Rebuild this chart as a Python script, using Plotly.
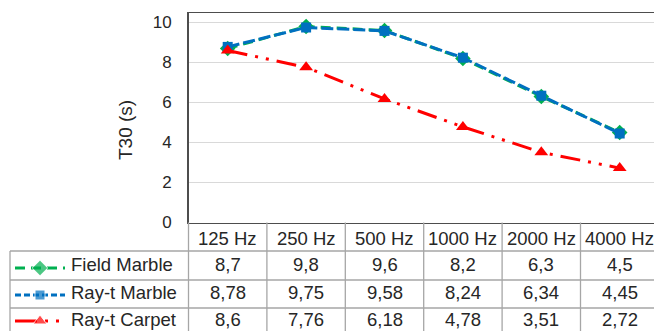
import plotly.graph_objects as go

# ---- data -------------------------------------------------------------
bands = ["125 Hz", "250 Hz", "500 Hz", "1000 Hz", "2000 Hz", "4000 Hz"]
field_marble = [8.7, 9.8, 9.6, 8.2, 6.3, 4.5]
rayt_marble = [8.78, 9.75, 9.58, 8.24, 6.34, 4.45]
rayt_carpet = [8.6, 7.76, 6.18, 4.78, 3.51, 2.72]
series_names = ["Field Marble", "Ray-t Marble", "Ray-t Carpet"]
y_ticks = [0, 2, 4, 6, 8, 10]
y_title = "T30 (s)"

# ---- page geometry (pixels) ------------------------------------------
W, H = 654, 331
PL, PT, PB = 188.5, 13.0, 222.5          # plot area left / top / bottom
Y10 = 22.5                                # pixel row of the 10 s gridline
COL = 78.4                                # width of one frequency column
ROW_LINES = [251.0, 280.0, 308.0]         # table row separators below header
TABLE_LEFT = 10.0
HEADER_TEXT_BOTTOM = 249.5                # bottom of the header text boxes
ROW_TEXT_BOTTOM = [276.0, 303.5, 331.0]   # bottom of the value text boxes
KEY_Y = [268.0, 295.0, 321.0]             # legend key rows inside the table

FONT = "Liberation Sans, Arial, sans-serif"
TXT = "#262626"
FRAME = "#4d4d4d"
GRID = "#d9d9d9"
TABLE_LINE = "#a6a6a6"

styles = [
    dict(color="#00B050", dash="10px,6px", symbol="diamond", size=12),
    dict(color="#0070C0", dash="12px,4px", symbol="square", size=10),
    dict(color="#FF0000", dash="20px,8px,3px,8px,3px,8px", symbol="triangle-up", size=12),
]
key_dash = ["10px,6px", "6px,3px", "22px,8px,3px,8px,3px,8px"]

x_span = (W - PL) / COL
y_top = 10 * (PB - PT) / (PB - Y10)

fig = go.Figure()

for name, vals, st in zip(series_names, [field_marble, rayt_marble, rayt_carpet], styles):
    fig.add_trace(go.Scatter(
        x=bands, y=vals, mode="lines+markers", name=name,
        line=dict(color=st["color"], width=3, dash=st["dash"]),
        marker=dict(symbol=st["symbol"], size=st["size"], color=st["color"]),
        xaxis="x", yaxis="y", hoverinfo="skip", cliponaxis=False,
    ))

# legend keys drawn inside the data table (pixel overlay axes)
for i, st in enumerate(styles):
    fig.add_trace(go.Scatter(
        x=[15, 40, 65], y=[KEY_Y[i]] * 3, mode="lines+markers",
        line=dict(color=st["color"], width=3, dash=key_dash[i]),
        marker=dict(symbol=st["symbol"], size=[0, st["size"], 0], color=st["color"]),
        xaxis="x2", yaxis="y2", hoverinfo="skip", showlegend=False,
    ))

shapes = []
def hline(y, x0, x1, color=TABLE_LINE, w=1.3):
    shapes.append(dict(type="line", xref="x2", yref="y2", x0=x0, x1=x1, y0=y, y1=y,
                       line=dict(color=color, width=w), layer="above"))

def vline(x, y0, y1, xref="x2", color=TABLE_LINE, w=1.3):
    shapes.append(dict(type="line", xref=xref, yref="y2", x0=x, x1=x, y0=y0, y1=y1,
                       line=dict(color=color, width=w), layer="above"))

# table grid
for y in ROW_LINES:
    hline(y, TABLE_LEFT, W)
vline(TABLE_LEFT, ROW_LINES[0], H)
vline(PL, PB, H)
for k in range(1, len(bands)):
    vline(k - 0.5, PB, H, xref="x")

def cell_text(x, xref, y, text, xanchor="center"):
    return dict(x=x, xref=xref, y=y, yref="y2", text=text, showarrow=False,
                xanchor=xanchor, yanchor="bottom", borderpad=0,
                font=dict(family=FONT, size=18.5, color=TXT))

annotations = []
# header row
for b in bands:
    annotations.append(cell_text(b, "x", HEADER_TEXT_BOTTOM, b))
# value rows
for i, vals in enumerate([field_marble, rayt_marble, rayt_carpet]):
    for b, v in zip(bands, vals):
        annotations.append(cell_text(b, "x", ROW_TEXT_BOTTOM[i], f"{v:g}".replace(".", ",")))
    annotations.append(cell_text(70, "x2", ROW_TEXT_BOTTOM[i], series_names[i], "left"))
# y-axis title
annotations.append(dict(x=125, xref="x2", y=130, yref="y2", text=y_title, textangle=-90,
                        showarrow=False, xanchor="center", yanchor="middle",
                        font=dict(family=FONT, size=19, color=TXT)))

fig.update_layout(
    width=W, height=H,
    margin=dict(l=0, r=0, t=0, b=0, autoexpand=False),
    paper_bgcolor="white", plot_bgcolor="rgba(0,0,0,0)",
    showlegend=False,
    xaxis=dict(domain=[PL / W, 1], range=[-0.5, -0.5 + x_span], type="category",
               showticklabels=False, showgrid=False, zeroline=False, ticks="",
               showline=True, mirror=True, linecolor=FRAME, linewidth=1.5,
               anchor="y", fixedrange=True, automargin=False),
    yaxis=dict(domain=[(H - PB) / H, (H - PT) / H], range=[0, y_top],
               tickvals=y_ticks, ticks="", ticklabelstandoff=12,
               tickfont=dict(family=FONT, size=17, color=TXT),
               showgrid=True, gridcolor=GRID, gridwidth=1.5, zeroline=False,
               showline=True, linecolor=FRAME, linewidth=1.5,
               anchor="x", fixedrange=True, automargin=False),
    xaxis2=dict(domain=[0, 1], range=[0, W], visible=False, anchor="y2",
                fixedrange=True, automargin=False),
    yaxis2=dict(domain=[0, 1], range=[H, 0], visible=False, anchor="x2",
                fixedrange=True, automargin=False),
    shapes=shapes,
    annotations=annotations,
)

fig.write_html("out.html", config={"displayModeBar": False, "staticPlot": True})
